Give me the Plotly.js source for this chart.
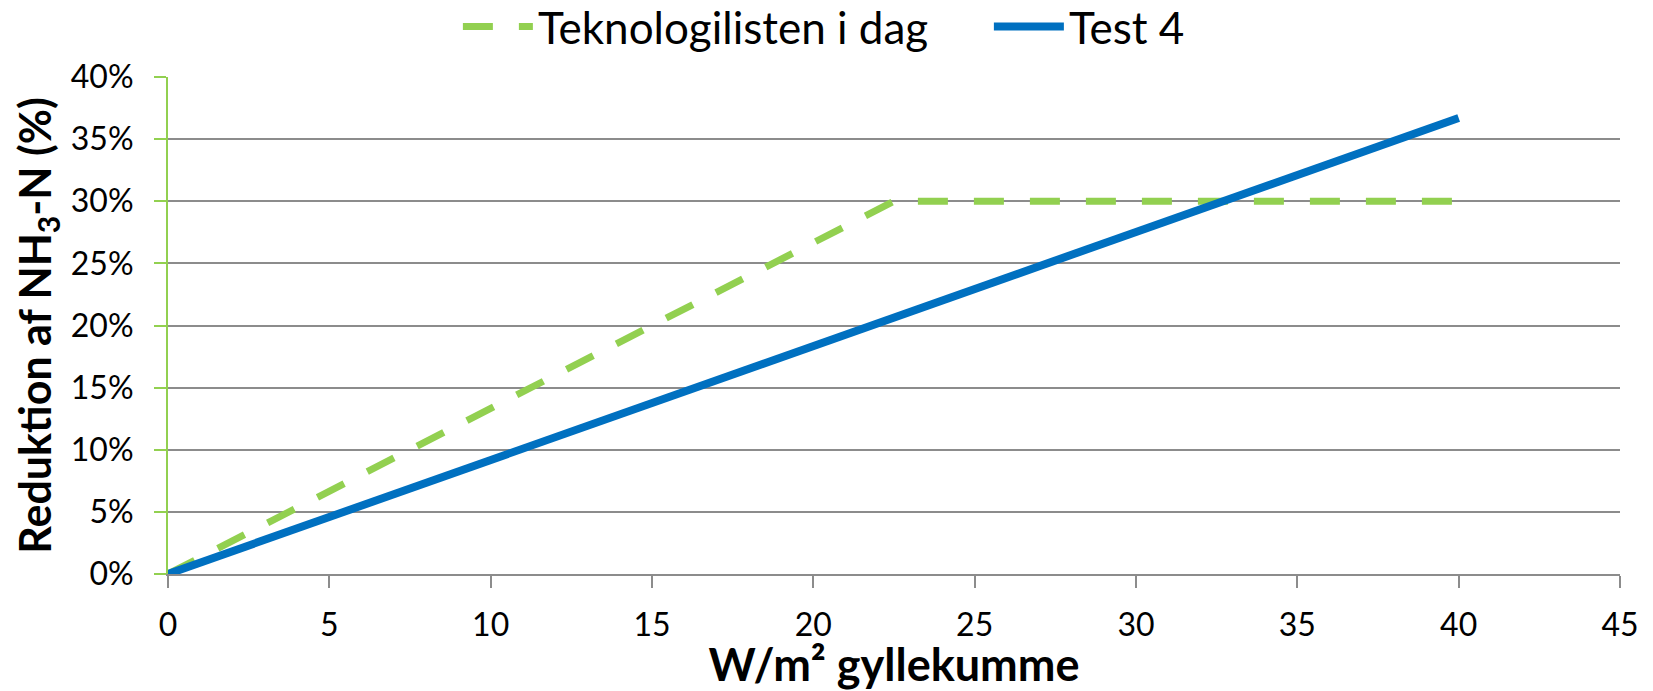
<!DOCTYPE html>
<html>
<head>
<meta charset="utf-8">
<script src="https://cdn.plot.ly/plotly-3.0.1.min.js"></script>
<style>html,body{margin:0;padding:0;background:#fff;}#chart{width:1653px;height:691px;}</style>
</head>
<body>
<div id="chart"></div>
<script>
// Data
const seriesNames = ["Teknologilisten i dag", "Test 4"];
const teknoX = [0, 22.5, 40];
const teknoY = [0, 0.30, 0.30];
const test4X = [0, 40];
const test4Y = [0, 0.367];
const xTicks = [0, 5, 10, 15, 20, 25, 30, 35, 40, 45];
const yTicks = [0, 0.05, 0.10, 0.15, 0.20, 0.25, 0.30, 0.35, 0.40];

const FONT = "Lato, 'Open Sans', sans-serif";

const traces = [
  {
    x: teknoX, y: teknoY, name: seriesNames[0], type: "scatter", mode: "lines",
    line: {color: "#92D050", width: 7, dash: "30px,26px"}
  },
  {
    x: test4X, y: test4Y, name: seriesNames[1], type: "scatter", mode: "lines",
    line: {color: "#0070C0", width: 8}
  }
];

const layout = {
  width: 1653, height: 691,
  margin: {l: 168, r: 33, t: 77, b: 117},
  paper_bgcolor: "#fff", plot_bgcolor: "#fff",
  font: {family: FONT, color: "#000"},
  showlegend: true,
  legend: {
    orientation: "h", xref: "container", yref: "container",
    x: 0.277, xanchor: "left", y: 0.961, yanchor: "middle",
    font: {size: 44, family: FONT, color: "#000"},
    itemwidth: 70,
    entrywidth: 446, entrywidthmode: "pixels"
  },
  xaxis: {
    range: [0, 45], tickvals: xTicks, ticktext: xTicks.map(String),
    showgrid: false, zeroline: false,
    showline: true, linecolor: "#8c8c8c", linewidth: 2,
    ticks: "outside", ticklen: 12, tickwidth: 2, tickcolor: "#8c8c8c",
    tickfont: {size: 32, family: FONT, color: "#000"},
    ticklabelstandoff: 10,
    title: {text: "W/m² gyllekumme", font: {size: 45, family: FONT, color: "#000", weight: "bold"}, standoff: 9},
    fixedrange: true
  },
  yaxis: {
    range: [0, 0.4], tickvals: yTicks, tickformat: ".0%",
    showgrid: true, gridcolor: "#8c8c8c", gridwidth: 2,
    zeroline: false,
    showline: true, linecolor: "#92D050", linewidth: 2,
    ticks: "outside", ticklen: 12, tickwidth: 2, tickcolor: "#92D050",
    tickfont: {size: 32, family: FONT, color: "#000"},
    ticklabelstandoff: 14,
    title: {text: "Reduktion af NH<sub>3</sub>-N (%)", font: {size: 43, family: FONT, color: "#000", weight: "bold"}, standoff: 6},
    fixedrange: true
  }
};

Plotly.newPlot("chart", traces, layout, {displayModeBar: false, staticPlot: true});
</script>
</body>
</html>
